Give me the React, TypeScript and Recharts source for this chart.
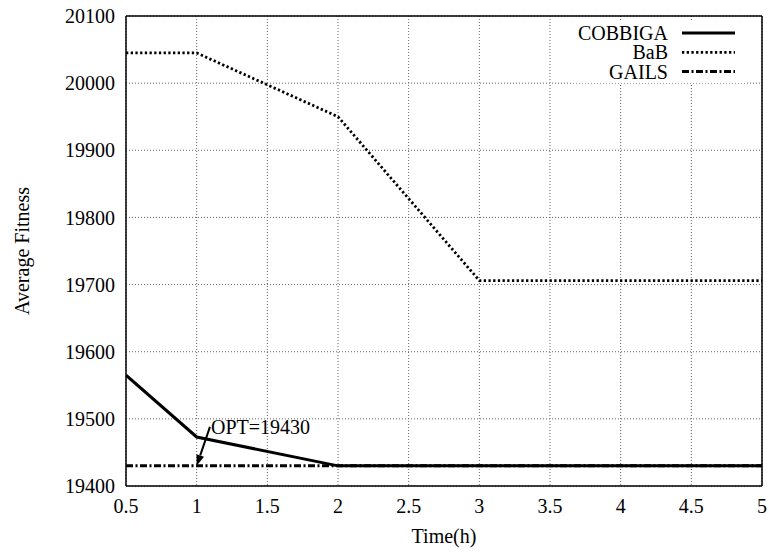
import React from 'react';
import { LineChart, Line, XAxis, YAxis, CartesianGrid, Legend, ReferenceLine } from 'recharts';

// values
const times = [0.5, 1, 2, 3, 4, 5];
const cobbiga = [19565, 19473, 19430, 19430, 19430, 19430];
const bab = [20045, 20045, 19950, 19706, 19706, 19706];
const gails = [19430, 19430, 19430, 19430, 19430, 19430];

const xTicks = [0.5, 1, 1.5, 2, 2.5, 3, 3.5, 4, 4.5, 5];
const yTicks = [19400, 19500, 19600, 19700, 19800, 19900, 20000, 20100];

const optLabel = 'OPT=19430';
const optFrom = { x: 1.094, y: 19488 };
const optTo = { x: 1, y: 19430 };

const series = [
  { key: 'COBBIGA', dash: undefined as string | undefined, width: 3 },
  { key: 'BaB', dash: '2.3 2.4', width: 2.8 },
  { key: 'GAILS', dash: '7 2.5 2 2.5', width: 3 },
];

const data = times.map((t, i) => ({
  time: t,
  COBBIGA: cobbiga[i],
  BaB: bab[i],
  GAILS: gails[i],
}));

const FONT = "'Liberation Serif', 'Times New Roman', Times, serif";
const txt = { fontFamily: FONT, fontSize: 20 };

const LegendBox = () => (
  <svg width={175} height={62} style={{ display: 'block', background: '#fff' }}>
    {series.map((s, i) => {
      const cy = 12 + i * 19.3;
      return (
        <g key={s.key}>
          <text x={96} y={cy} textAnchor="end" dominantBaseline="central" style={txt} fill="#000">
            {s.key}
          </text>
          <line x1={110} x2={163} y1={cy} y2={cy} stroke="#000" strokeWidth={s.width} strokeDasharray={s.dash} />
        </g>
      );
    })}
  </svg>
);

const OptArrow = (props: any) => {
  const { x1, y1, x2, y2 } = props;
  const dx = x2 - x1;
  const dy = y2 - y1;
  const len = Math.sqrt(dx * dx + dy * dy) || 1;
  const ux = dx / len;
  const uy = dy / len;
  const hl = 11;
  const hw = 4;
  const bx = x2 - ux * hl;
  const by = y2 - uy * hl;
  const head = `${x2},${y2} ${bx - uy * hw},${by + ux * hw} ${bx + uy * hw},${by - ux * hw}`;
  return (
    <g>
      <line x1={x1} y1={y1} x2={bx} y2={by} stroke="#000" strokeWidth={2} />
      <polygon points={head} fill="#000" />
      <text x={x1 + 1} y={y1} dominantBaseline="central" style={txt} fill="#000">
        {optLabel}
      </text>
    </g>
  );
};

const App: React.FC = () => {
  return (
    <div style={{ position: 'absolute', left: 0, top: 0, background: '#fff', fontFamily: FONT }}>
      <LineChart
        width={769}
        height={553}
        data={data}
        margin={{ top: 16, right: 7, left: 6, bottom: 7 }}
        style={{ fontFamily: FONT }}
      >
        <CartesianGrid stroke="#666" strokeDasharray="1 2" />
        <XAxis
          dataKey="time"
          type="number"
          domain={[0.5, 5]}
          ticks={xTicks}
          allowDataOverflow
          height={60}
          tickLine={false}
          axisLine={false}
          tickSize={6}
          tickMargin={7}
          tick={{ fill: '#000', fontSize: 20, fontFamily: FONT, style: txt }}
          label={{
            content: (p: any) => (
              <text
                x={p.viewBox.x + p.viewBox.width / 2}
                y={p.viewBox.y + 50}
                textAnchor="middle"
                dominantBaseline="central"
                style={txt}
                fill="#000"
              >
                Time(h)
              </text>
            ),
          }}
        />
        <YAxis
          type="number"
          domain={[19400, 20100]}
          ticks={yTicks}
          allowDataOverflow
          width={120}
          tickLine={false}
          axisLine={false}
          tickSize={6}
          tickMargin={5}
          tick={{ fill: '#000', fontSize: 20, fontFamily: FONT, style: txt }}
          label={{
            content: (p: any) => {
              const cx = p.viewBox.x + 16;
              const cy = p.viewBox.y + p.viewBox.height / 2;
              return (
                <text
                  x={cx}
                  y={cy}
                  transform={`rotate(-90, ${cx}, ${cy})`}
                  textAnchor="middle"
                  dominantBaseline="central"
                  style={txt}
                  fill="#000"
                >
                  Average Fitness
                </text>
              );
            },
          }}
        />
        {/* frame with inward ticks, gnuplot style */}
        <XAxis xAxisId="bm" orientation="bottom" mirror type="number" domain={[0.5, 5]} ticks={xTicks} allowDataOverflow height={1} tick={false} tickSize={6} tickLine={{ stroke: '#000' }} axisLine={{ stroke: '#000', strokeWidth: 1.5 }} />
        <XAxis xAxisId="tm" orientation="top" mirror type="number" domain={[0.5, 5]} ticks={xTicks} allowDataOverflow height={1} tick={false} tickSize={6} tickLine={{ stroke: '#000' }} axisLine={{ stroke: '#000', strokeWidth: 1.5 }} />
        <YAxis yAxisId="lm" orientation="left" mirror type="number" domain={[19400, 20100]} ticks={yTicks} allowDataOverflow width={1} tick={false} tickSize={6} tickLine={{ stroke: '#000' }} axisLine={{ stroke: '#000', strokeWidth: 1.5 }} />
        <YAxis yAxisId="rm" orientation="right" mirror type="number" domain={[19400, 20100]} ticks={yTicks} allowDataOverflow width={1} tick={false} tickSize={6} tickLine={{ stroke: '#000' }} axisLine={{ stroke: '#000', strokeWidth: 1.5 }} />
        <Legend
          layout="vertical"
          align="center"
          verticalAlign="middle"
          content={() => <LegendBox />}
          wrapperStyle={{ left: 572, top: 21, width: 175, height: 62 }}
        />
        {series.map((s) => (
          <Line
            key={s.key}
            dataKey={s.key}
            type="linear"
            stroke="#000"
            strokeWidth={s.width}
            strokeDasharray={s.dash}
            dot={false}
            activeDot={false}
            isAnimationActive={false}
          />
        ))}
        <ReferenceLine
          segment={[optFrom, optTo]}
          ifOverflow="visible"
          shape={(p: any) => <OptArrow {...p} />}
        />
      </LineChart>
    </div>
  );
};

export default App;
